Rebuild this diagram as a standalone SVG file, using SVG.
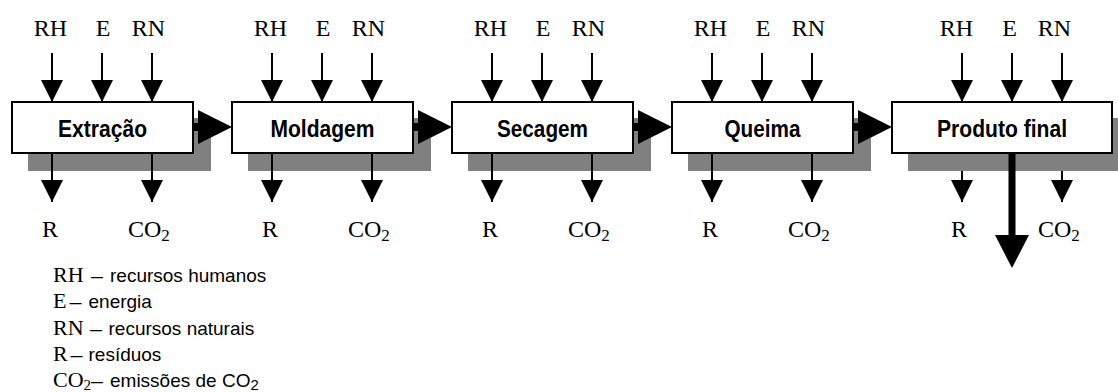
<svg xmlns="http://www.w3.org/2000/svg" width="1118" height="392" viewBox="0 0 1118 392">
<style>
.shadow{fill:#808080;stroke:none}
.box{fill:#fff;stroke:#000;stroke-width:2}
.bt{font-family:"Liberation Sans",Arial,sans-serif;font-weight:bold;font-size:23px;text-anchor:middle;fill:#000}
.lbl{font-family:"Liberation Serif","Times New Roman",serif;font-size:24px;fill:#000}
.mid{text-anchor:middle}
.sub{font-size:17px}
.thin{stroke:#000;stroke-width:2;fill:none;marker-end:url(#ah)}
.shaft{fill:#000;stroke:none}
.head{fill:#000;stroke:none}
.lt{font-family:"Liberation Serif","Times New Roman",serif;font-size:22px;fill:#000}
.la{font-family:"Liberation Sans",Arial,sans-serif;font-size:19px}
.ls{font-size:15px}
</style>
<defs>
<marker id="ah" markerUnits="userSpaceOnUse" viewBox="0 0 22 22" markerWidth="22" markerHeight="22" refX="22" refY="11" orient="auto"><path d="M0,0 L22,11 L0,22 z" fill="#000"/></marker>
</defs>

<g id="shadows">
<rect class="shadow" x="28" y="118" width="183" height="53"/>
<rect class="shadow" x="248" y="118" width="183" height="53"/>
<rect class="shadow" x="468" y="118" width="183" height="53"/>
<rect class="shadow" x="688" y="118" width="183" height="53"/>
</g>

<g id="connectors">
<line class="thin" x1="52" y1="53" x2="52" y2="102"/>
<line class="thin" x1="102" y1="53" x2="102" y2="102"/>
<line class="thin" x1="152" y1="53" x2="152" y2="102"/>
<line class="thin" x1="272" y1="53" x2="272" y2="102"/>
<line class="thin" x1="322" y1="53" x2="322" y2="102"/>
<line class="thin" x1="372" y1="53" x2="372" y2="102"/>
<line class="thin" x1="492" y1="53" x2="492" y2="102"/>
<line class="thin" x1="542" y1="53" x2="542" y2="102"/>
<line class="thin" x1="592" y1="53" x2="592" y2="102"/>
<line class="thin" x1="712" y1="53" x2="712" y2="102"/>
<line class="thin" x1="762" y1="53" x2="762" y2="102"/>
<line class="thin" x1="812" y1="53" x2="812" y2="102"/>
<line class="thin" x1="962" y1="53" x2="962" y2="102"/>
<line class="thin" x1="1012" y1="53" x2="1012" y2="102"/>
<line class="thin" x1="1062" y1="53" x2="1062" y2="102"/>
<line class="thin" x1="52" y1="153" x2="52" y2="202"/>
<line class="thin" x1="152" y1="153" x2="152" y2="202"/>
<line class="thin" x1="272" y1="153" x2="272" y2="202"/>
<line class="thin" x1="372" y1="153" x2="372" y2="202"/>
<line class="thin" x1="492" y1="153" x2="492" y2="202"/>
<line class="thin" x1="592" y1="153" x2="592" y2="202"/>
<line class="thin" x1="712" y1="153" x2="712" y2="202"/>
<line class="thin" x1="812" y1="153" x2="812" y2="202"/>
<line class="thin" x1="962" y1="171" x2="962" y2="202"/>
<line class="thin" x1="1062" y1="171" x2="1062" y2="202"/>
<rect class="shaft" x="193" y="123" width="7" height="8"/><polygon class="head" points="198,110 232,127 198,144"/>
<rect class="shaft" x="413" y="123" width="7" height="8"/><polygon class="head" points="418,110 452,127 418,144"/>
<rect class="shaft" x="633" y="123" width="7" height="8"/><polygon class="head" points="638,110 672,127 638,144"/>
<rect class="shaft" x="853" y="123" width="7" height="8"/><polygon class="head" points="858,110 892,127 858,144"/>
</g>

<g id="n1">
<rect class="box" x="12" y="102" width="181" height="51"/>
<text class="bt" x="102.5" y="136.5" textLength="89" lengthAdjust="spacingAndGlyphs">Extração</text>
</g>
<g id="n2">
<rect class="box" x="232" y="102" width="181" height="51"/>
<text class="bt" x="322.5" y="136.5" textLength="104" lengthAdjust="spacingAndGlyphs">Moldagem</text>
</g>
<g id="n3">
<rect class="box" x="452" y="102" width="181" height="51"/>
<text class="bt" x="542.5" y="136.5" textLength="91" lengthAdjust="spacingAndGlyphs">Secagem</text>
</g>
<g id="n4">
<rect class="box" x="672" y="102" width="181" height="51"/>
<text class="bt" x="762.5" y="136.5" textLength="76" lengthAdjust="spacingAndGlyphs">Queima</text>
</g>
<g id="n5">
<rect class="shadow" x="908" y="118" width="222" height="53"/>
<rect class="box" x="892" y="102" width="220" height="51"/>
<text class="bt" x="1002" y="136.5" textLength="130" lengthAdjust="spacingAndGlyphs">Produto final</text>
<rect class="shaft" x="1008.5" y="153" width="7" height="84"/>
<polygon class="head" points="995,235 1029,235 1012,268"/>
</g>

<g id="labels">
<text class="lbl mid" x="50.5" y="36">RH</text><text class="lbl mid" x="103" y="36">E</text><text class="lbl mid" x="148.5" y="36">RN</text>
<text class="lbl mid" x="270.5" y="36">RH</text><text class="lbl mid" x="323" y="36">E</text><text class="lbl mid" x="368.5" y="36">RN</text>
<text class="lbl mid" x="490.5" y="36">RH</text><text class="lbl mid" x="543" y="36">E</text><text class="lbl mid" x="588.5" y="36">RN</text>
<text class="lbl mid" x="710.5" y="36">RH</text><text class="lbl mid" x="763" y="36">E</text><text class="lbl mid" x="808.5" y="36">RN</text>
<text class="lbl mid" x="956.5" y="36">RH</text><text class="lbl mid" x="1009.5" y="36">E</text><text class="lbl mid" x="1054.5" y="36">RN</text>

<text class="lbl mid" x="50" y="237">R</text><text class="lbl" x="128" y="237">CO<tspan class="sub" dy="4">2</tspan></text>
<text class="lbl mid" x="270" y="237">R</text><text class="lbl" x="348" y="237">CO<tspan class="sub" dy="4">2</tspan></text>
<text class="lbl mid" x="490" y="237">R</text><text class="lbl" x="568" y="237">CO<tspan class="sub" dy="4">2</tspan></text>
<text class="lbl mid" x="710" y="237">R</text><text class="lbl" x="788" y="237">CO<tspan class="sub" dy="4">2</tspan></text>
<text class="lbl mid" x="959" y="237">R</text><text class="lbl" x="1038" y="237">CO<tspan class="sub" dy="4">2</tspan></text>
</g>

<g id="legend">
<text class="lt" x="53" y="282">RH<tspan class="la" x="91" textLength="12" lengthAdjust="spacingAndGlyphs">–</tspan><tspan class="la" x="110">recursos humanos</tspan></text>
<text class="lt" x="53" y="308">E<tspan class="la" x="69.5" textLength="12" lengthAdjust="spacingAndGlyphs">–</tspan><tspan class="la" x="88.5">energia</tspan></text>
<text class="lt" x="53" y="335">RN<tspan class="la" x="90" textLength="12" lengthAdjust="spacingAndGlyphs">–</tspan><tspan class="la" x="108.5">recursos naturais</tspan></text>
<text class="lt" x="53" y="361">R<tspan class="la" x="70.5" textLength="12" lengthAdjust="spacingAndGlyphs">–</tspan><tspan class="la" x="88.5">resíduos</tspan></text>
<text class="lt" x="53" y="387">CO<tspan class="ls" dy="3">2</tspan><tspan class="la" x="91" dy="-3" textLength="12" lengthAdjust="spacingAndGlyphs">–</tspan><tspan class="la" x="110">emissões de CO<tspan class="ls" dy="3">2</tspan></tspan></text>
</g>
</svg>
